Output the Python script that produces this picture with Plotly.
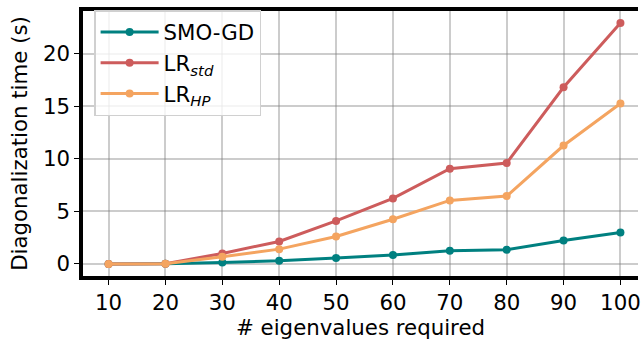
import plotly.graph_objects as go

x_vals = [10, 20, 30, 40, 50, 60, 70, 80, 90, 100]
smo_gd = [0.0, 0.02, 0.15, 0.3, 0.57, 0.85, 1.25, 1.35, 2.23, 2.99]
lr_std = [0.0, 0.03, 1.0, 2.14, 4.09, 6.23, 9.06, 9.59, 16.8, 22.9]
lr_hp = [0.0, 0.03, 0.69, 1.41, 2.61, 4.25, 6.04, 6.45, 11.26, 15.25]
y_ticks = [0, 5, 10, 15, 20]

series = [
    ("SMO-GD", smo_gd, "#008080"),
    ("LR<sub><i>std</i></sub>", lr_std, "#CD5C5C"),
    ("LR<sub><i>HP</i></sub>", lr_hp, "#F4A460"),
]

fig = go.Figure()
for name, ys, col in series:
    fig.add_trace(go.Scatter(
        x=x_vals, y=ys, name=name, mode="lines+markers",
        line=dict(color=col, width=3),
        marker=dict(color=col, size=8),
    ))

font = "DejaVu Sans"
FS = 21.3
fig.update_layout(
    width=641, height=341,
    margin=dict(l=83, r=0, t=11, b=65),
    paper_bgcolor="white", plot_bgcolor="white",
    font=dict(family=font, size=FS, color="black"),
    showlegend=True,
    legend=dict(
        x=0.02, y=1.003, xanchor="left", yanchor="top",
        bgcolor="rgba(255,255,255,0.8)", bordercolor="#d0d0d0", borderwidth=1.5,
        font=dict(size=FS), tracegroupgap=0, itemwidth=58,
    ),
    xaxis=dict(
        range=[5.5, 103.09], tickvals=x_vals,
        showgrid=True, gridcolor="rgba(128,128,128,0.4)", gridwidth=1.5,
        showline=True, linecolor="black", linewidth=3.5, mirror=True,
        ticks="outside", ticklen=5, tickwidth=1.3, tickcolor="black",
        zeroline=False, ticklabeloverflow="allow",
        title=dict(text="# eigenvalues required", font=dict(size=FS), standoff=4),
        tickfont=dict(size=FS),
    ),
    yaxis=dict(
        range=[-1.145, 24.05], tickvals=y_ticks,
        showgrid=True, gridcolor="rgba(128,128,128,0.4)", gridwidth=1.5,
        showline=True, linecolor="black", linewidth=3.5, mirror=False,
        ticks="outside", ticklen=5, tickwidth=1.3, tickcolor="black",
        zeroline=False,
        title=dict(text="Diagonalization time (s)", font=dict(size=FS), standoff=10),
        tickfont=dict(size=FS),
    ),
)

fig.write_html("out.html")
